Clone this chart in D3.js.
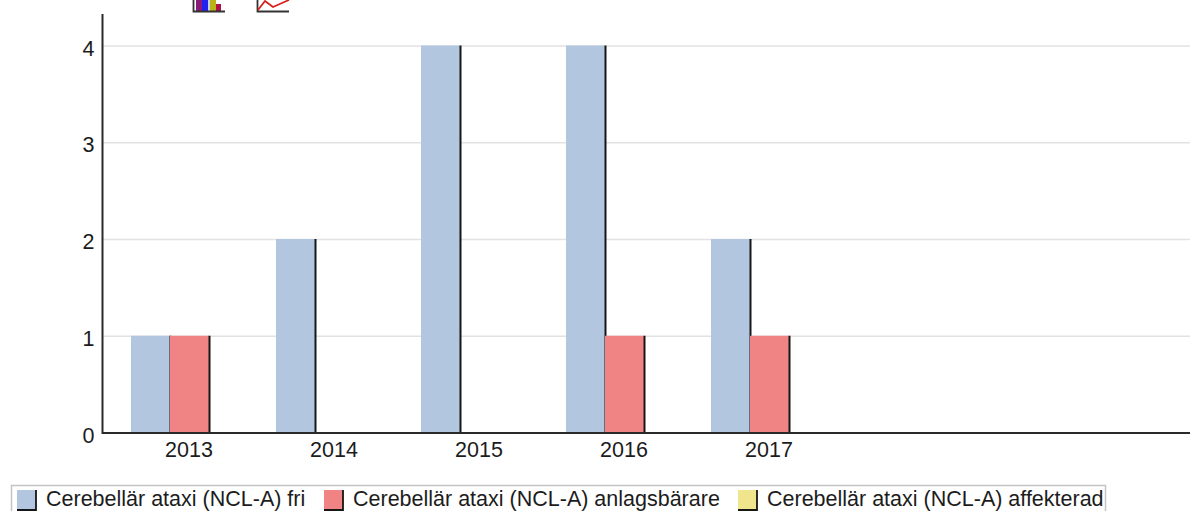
<!DOCTYPE html>
<html lang="en">
<head>
<meta charset="UTF-8">
<title>Cerebellär ataxi</title>
<script src="https://cdnjs.cloudflare.com/ajax/libs/d3/7.8.5/d3.min.js"></script>
<style>
  html, body { margin: 0; padding: 0; background: #fff; overflow: hidden; }
  svg { display: block; }
  text { font-family: "Liberation Sans", Arial, sans-serif; fill: #1c1c1c; }
</style>
</head>
<body>
<div id="wrapper"></div>
<script>
const years = ['2013', '2014', '2015', '2016', '2017']
const seriesNames = [
  'Cerebellär ataxi (NCL-A) fri',
  'Cerebellär ataxi (NCL-A) anlagsbärare',
  'Cerebellär ataxi (NCL-A) affekterad'
]
const fri = [1, 2, 4, 4, 2]
const anlagsbarare = [1, 0, 0, 1, 1]
const affekterad = [0, 0, 0, 0, 0]
const colors = ['#b3c6df', '#f08484', '#f0e48c']
const yTicks = [0, 1, 2, 3, 4]

const width = 1190
const height = 511
const plot = { left: 102.5, right: 1190, top: 14, bottom: 433 }
const fontSize = 21.5

const svg = d3.select('#wrapper').append('svg')
  .attr('width', width)
  .attr('height', height)

// one step is 145px, the axis carries on empty after 2017
const x = d3.scaleBand()
  .domain(years)
  .range([117, 117 + 145 * years.length])
  .paddingInner(28 / 145)
  .paddingOuter(14 / 145)
const inner = d3.scaleBand()
  .domain(d3.range(seriesNames.length))
  .range([0, x.bandwidth()])
const y = d3.scaleLinear()
  .domain([0, 4])
  .range([plot.bottom, 46])

// grid
svg.append('g').selectAll('line')
  .data(yTicks.filter(d => d > 0))
  .join('line')
  .attr('x1', plot.left)
  .attr('x2', plot.right)
  .attr('y1', d => y(d))
  .attr('y2', d => y(d))
  .attr('stroke', '#e2e2e2')
  .attr('stroke-width', 1.5)

// bars
const allSeries = [fri, anlagsbarare, affekterad]
allSeries.forEach((values, s) => {
  const g = svg.append('g').attr('class', 'series')
  const shown = values.map((v, i) => ({ v, year: years[i] })).filter(d => d.v > 0)
  g.selectAll('rect')
    .data(shown)
    .join('rect')
    .attr('x', d => x(d.year) + inner(s))
    .attr('y', d => y(d.v) - 0.5)
    .attr('width', inner.bandwidth())
    .attr('height', d => y(0) - y(d.v) + 0.5)
    .attr('fill', colors[s])
  g.selectAll('line')
    .data(shown)
    .join('line')
    .attr('x1', d => x(d.year) + inner(s) + inner.bandwidth() + 0.5)
    .attr('x2', d => x(d.year) + inner(s) + inner.bandwidth() + 0.5)
    .attr('y1', d => y(d.v) - 0.5)
    .attr('y2', y(0))
    .attr('stroke', '#161616')
    .attr('stroke-width', 2)
})

// axes
const yAxis = svg.append('g')
  .attr('transform', `translate(${plot.left},0)`)
  .call(d3.axisLeft(y).tickValues(yTicks).tickFormat(d3.format('d')).tickSize(0).tickPadding(8))
yAxis.select('.domain').remove()
yAxis.selectAll('text').attr('font-size', fontSize).attr('dy', '0.42em')

const xAxis = svg.append('g')
  .attr('transform', `translate(0,${plot.bottom})`)
  .call(d3.axisBottom(x).tickSize(0).tickPadding(9))
xAxis.select('.domain').remove()
xAxis.selectAll('text').attr('font-size', fontSize).attr('dx', -0.5)

svg.append('line')
  .attr('x1', plot.left).attr('x2', plot.left)
  .attr('y1', plot.top).attr('y2', plot.bottom + 1)
  .attr('stroke', '#2a2a2a').attr('stroke-width', 2)
svg.append('line')
  .attr('x1', plot.left).attr('x2', plot.right)
  .attr('y1', plot.bottom).attr('y2', plot.bottom)
  .attr('stroke', '#2a2a2a').attr('stroke-width', 2)

// chart type icons, cut off by the top edge
const icons = svg.append('g')
const iconBars = [
  { x: 196, w: 6, top: 0, c: '#8a1a7a' },
  { x: 202, w: 6, top: 0, c: '#2222ee' },
  { x: 208, w: 2, top: 0, c: '#c8d0e8' },
  { x: 210, w: 6, top: 0, c: '#b8b414' },
  { x: 216, w: 5, top: 4, c: '#b01048' }
]
icons.selectAll('rect')
  .data(iconBars)
  .join('rect')
  .attr('x', d => d.x)
  .attr('y', d => d.top)
  .attr('width', d => d.w)
  .attr('height', d => 11 - d.top)
  .attr('fill', d => d.c)
icons.append('path')
  .attr('d', 'M193.5 0V11.5H225M257.5 0V11.5H289')
  .attr('fill', 'none').attr('stroke', '#333').attr('stroke-width', 1.8)
icons.append('path')
  .attr('d', 'M258 10L265 1L273 7L282 3L289 0')
  .attr('fill', 'none').attr('stroke', '#d8201c').attr('stroke-width', 1.8)

// legend
const legend = svg.append('g')
legend.append('rect')
  .attr('x', 11.5).attr('y', 485.5)
  .attr('width', 1094).attr('height', 40)
  .attr('fill', '#fff').attr('stroke', '#c4c4c4').attr('stroke-width', 1.5)
const legendX = [17, 324, 738]
const items = legend.selectAll('g')
  .data(seriesNames)
  .join('g')
  .attr('transform', (d, i) => `translate(${legendX[i]},490)`)
items.append('rect')
  .attr('width', 19).attr('height', 20)
  .attr('fill', (d, i) => colors[i])
items.append('path')
  .attr('d', 'M19 0V20H0')
  .attr('fill', 'none').attr('stroke', '#161616').attr('stroke-width', 1.8)
items.append('text')
  .attr('x', 29).attr('y', 16)
  .attr('font-size', fontSize)
  .text(d => d)
</script>
</body>
</html>
